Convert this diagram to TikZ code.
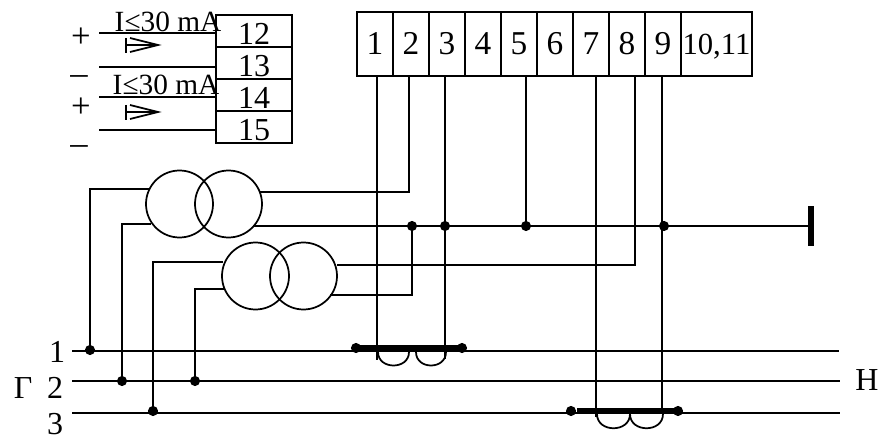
\documentclass[tikz,border=0pt]{standalone}
\usepackage{fontspec}
\setmainfont{Liberation Serif}
\usetikzlibrary{positioning}
\tikzstyle{wire} = [line width=1.3pt]
\tikzstyle{bus} = [line width=4pt]
\tikzstyle{lbl} = [font=\fontsize{24}{26}\selectfont, inner sep=0pt]
\tikzstyle{limit} = [font=\fontsize{22}{26}\selectfont, inner sep=0pt, text height=15pt, text depth=0pt]
\tikzstyle{sign} = [font=\fontsize{26}{28}\selectfont, inner sep=0pt, text height=12pt, text depth=0pt]
\tikzstyle{cell} = [rectangle, draw, line width=1.3pt, font=\fontsize{25}{28}\selectfont, minimum width=27pt, minimum height=48pt, inner sep=0pt, text height=17pt, text depth=1pt, text centered]
\tikzstyle{term} = [rectangle, draw, line width=1.3pt, font=\fontsize{24}{26}\selectfont, minimum width=57.5pt, minimum height=24pt, inner sep=0pt, text height=21pt, text depth=0pt, text centered]
\tikzstyle{coil} = [circle, draw, line width=1.3pt, minimum size=50.25pt, inner sep=0pt]
\tikzstyle{dot} = [circle, fill=black, minimum size=7.6pt, inner sep=0pt]
\tikzstyle{groundbar} = [rectangle, fill=black, minimum width=3.8pt, minimum height=30pt, inner sep=0pt]

\begin{document}
\begin{tikzpicture}[x=0.75pt, y=-0.75pt]
    \useasboundingbox (0,0) rectangle (882,438);

    % Terminals 1..11
    \node (cell1) [cell] at (375,44) {1};
    \node (cell2) [cell, right of=cell1, node distance=27pt] {2};
    \node (cell3) [cell, right of=cell2, node distance=27pt] {3};
    \node (cell4) [cell, right of=cell3, node distance=27pt] {4};
    \node (cell5) [cell, right of=cell4, node distance=27pt] {5};
    \node (cell6) [cell, right of=cell5, node distance=27pt] {6};
    \node (cell7) [cell, right of=cell6, node distance=27pt] {7};
    \node (cell8) [cell, right of=cell7, node distance=27pt] {8};
    \node (cell9) [cell, right of=cell8, node distance=27pt] {9};
    \node (cell10) [cell, font=\fontsize{23}{26}\selectfont, minimum width=53.25pt, right of=cell9, node distance=27pt, xshift=13.1pt] {10,11};

    % Terminals 12..15
    \node (term12) [term] at (254,31) {12};
    \node (term13) [term, below of=term12, node distance=24pt] {13};
    \node (term14) [term, below of=term13, node distance=24pt] {14};
    \node (term15) [term, below of=term14, node distance=24pt] {15};

    % Outputs
    \coordinate (out1) at (99,33);
    \coordinate (out2) at (99,67);
    \coordinate (out3) at (99,97);
    \coordinate (out4) at (99,130);
    \draw [wire] (out1) -- (out1 -| term12.west);
    \draw [wire] (out2) -- (out2 -| term13.west);
    \draw [wire] (out3) -- (out3 -| term14.west);
    \draw [wire] (out4) -- (out4 -| term15.west);
    \node (plus1) [sign] at (81,40) {+};
    \node (minus1) [sign] at (79,77) {–};
    \node (plus2) [sign] at (81,110) {+};
    \node (minus2) [sign] at (79,147) {–};
    \node (limit1) [limit] at (168,22) {I≤30 mA};
    \node (limit2) [limit] at (166,85) {I≤30 mA};

    % Output symbols
    \draw [wire] (126,38) -- (126,53);
    \draw [wire] (126,45) -- (158,45);
    \draw [wire] (130,38) -- (158,45) -- (130,52);
    \draw [wire] (126,105) -- (126,120);
    \draw [wire] (126,112) -- (158,112);
    \draw [wire] (130,105) -- (158,112) -- (130,119);

    % Voltage transformers
    \node (t1l) [coil] at (179.5,204) {};
    \node (t1r) [coil] at (228.5,204) {};
    \node (t2l) [coil] at (255.5,276) {};
    \node (t2r) [coil] at (303.5,276) {};

    % Transformer leads
    \coordinate (t1la) at (149,189);
    \coordinate (t1lb) at (151,224);
    \coordinate (t2la) at (223,262);
    \coordinate (t2lb) at (224,289);
    \coordinate (t1ra) at (260,192);
    \coordinate (t1rb) at (253,226);
    \coordinate (t2ra) at (337,265);
    \coordinate (t2rb) at (330,295);

    % Line ends
    \coordinate (line1l) at (72,351);
    \coordinate (line1r) at (839,351);
    \coordinate (line2l) at (72,381);
    \coordinate (line2r) at (840,381);
    \coordinate (line3l) at (72,413);
    \coordinate (line3r) at (840,413);
    \draw [wire] (line1l) -- (line1r);
    \draw [wire] (line2l) -- (line2r);
    \draw [wire] (line3l) -- (line3r);
    \node (name1) [lbl] at (57,352) {1};
    \node (name2) [lbl] at (55,388) {2};
    \node (name3) [lbl] at (55,424) {3};
    \node (gen) [lbl] at (23,388) {Г};
    \node (load) [lbl] at (867,380) {Н};

    % Joints
    \node (j1) [dot] at (90,350) {};
    \node (j2) [dot] at (122,381) {};
    \node (j3) [dot] at (153,411) {};
    \node (j4) [dot] at (195,381) {};
    \node (j5) [dot] at (412,226) {};
    \node (j6) [dot] at (445,226) {};
    \node (j7) [dot] at (526,226) {};
    \node (j8) [dot] at (664,226) {};
    \node (ground) [groundbar] at (811,226) {};

    % Transformer wires
    \draw [wire] (j1) |- (t1la);
    \draw [wire] (j2) |- (t1lb);
    \draw [wire] (j3) |- (t2la);
    \draw [wire] (j4) |- (t2lb);
    \draw [wire] (t1rb) -- (t1rb -| ground.west);
    \coordinate (tap2) at (409,76);
    \coordinate (tap8) at (635,76);
    \draw [wire] (t1ra) -| (tap2);
    \draw [wire] (t2ra) -| (tap8);
    \draw [wire] (t2rb) -| (j5);

    % Current transformers
    \node (ct1a) [dot] at (356,348) {};
    \node (ct1b) [dot] at (462,348) {};
    \node (ct2a) [dot] at (571,411) {};
    \node (ct2b) [dot] at (678,411) {};
    \coordinate (bar2a) at (577,411);
    \draw [bus] (ct1a.center) -- (ct1b.center);
    \draw [bus] (bar2a) -- (ct2b.center);
    \coordinate (end1) at (377,360);
    \coordinate (end3) at (445,359);
    \coordinate (end7) at (596,417);
    \coordinate (end9) at (662,413);
    \draw [wire] (end1 |- cell1.south) -- (end1);
    \draw [wire] (end3 |- cell3.south) -- (end3);
    \draw [wire] (j7 |- cell5.south) -- (j7);
    \draw [wire] (end7 |- cell7.south) -- (end7);
    \draw [wire] (end9 |- cell9.south) -- (end9);
    \draw [wire] (378,352) .. controls (378,370) and (409,370) .. (409,352);
    \draw [wire] (416,352) .. controls (416,370) and (446,370) .. (446,352);
    \draw [wire] (597,414) .. controls (597,433) and (630,433) .. (630,414);
    \draw [wire] (630,414) .. controls (630,433) and (663,433) .. (663,414);

\end{tikzpicture}
\end{document}
